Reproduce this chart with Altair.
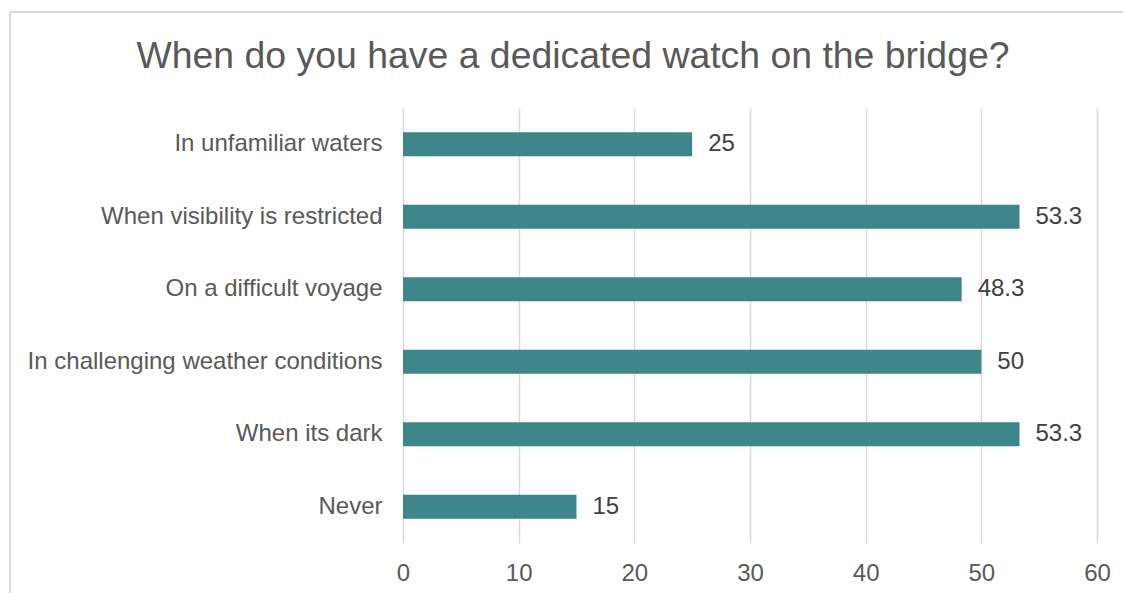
import altair as alt
import pandas as pd

categories = [
    "In unfamiliar waters",
    "When visibility is restricted",
    "On a difficult voyage",
    "In challenging weather conditions",
    "When its dark",
    "Never",
]
values = [25, 53.3, 48.3, 50, 53.3, 15]
labels = ["25", "53.3", "48.3", "50", "53.3", "15"]
title_text = "When do you have a dedicated watch on the bridge?"

df = pd.DataFrame({"cat": categories, "val": values, "lab": labels})

FONT = "Liberation Sans"
GRAY = "#595959"
FS = 24

y_enc = alt.Y(
    "cat:N",
    sort=categories,
    scale=alt.Scale(paddingInner=0, paddingOuter=0),
    axis=alt.Axis(
        title=None, ticks=False, domain=False, grid=False,
        labelFont=FONT, labelFontSize=FS, labelColor=GRAY, labelPadding=21,
        labelLimit=600,
    ),
)
x_enc = alt.X(
    "val:Q",
    scale=alt.Scale(domain=[0, 60], nice=False),
    axis=alt.Axis(
        title=None, ticks=False, domain=False, values=[0, 10, 20, 30, 40, 50, 60],
        grid=True, gridColor="#d9d9d9", gridWidth=1.5, labelFlush=False,
        labelFont=FONT, labelFontSize=FS, labelColor=GRAY, labelPadding=18,
    ),
)

bars = alt.Chart(df).mark_bar(size=24, color="#3f868a").encode(x=x_enc, y=y_enc)
text = alt.Chart(df).mark_text(
    align="left", baseline="middle", dx=16, font=FONT, fontSize=FS, color="#404040"
).encode(x="val:Q", y=alt.Y("cat:N", sort=categories), text="lab:N")

one = pd.DataFrame({"t": [title_text]})
border_left = alt.Chart(one).mark_rule(color="#d9d9d9", strokeWidth=2).encode(
    x=alt.value(-393), y=alt.value(-96), y2=alt.value(500)
)
border_top = alt.Chart(one).mark_rule(color="#d9d9d9", strokeWidth=2).encode(
    x=alt.value(-393), x2=alt.value(800), y=alt.value(-96)
)
title = alt.Chart(one).mark_text(
    font=FONT, fontSize=37.4, color=GRAY, align="center", baseline="middle"
).encode(x=alt.value(170), y=alt.value(-51), text="t:N")

chart = alt.layer(border_left, border_top, title, bars, text).properties(
    width=694,
    height=435,
    background="white",
    autosize=alt.AutoSizeParams(type="none"),
    padding={"left": 403, "top": 108, "right": 26, "bottom": 50},
).configure_view(strokeWidth=0, stroke="transparent")

chart.save("out.html", embed_options={"renderer": "svg", "actions": False})
